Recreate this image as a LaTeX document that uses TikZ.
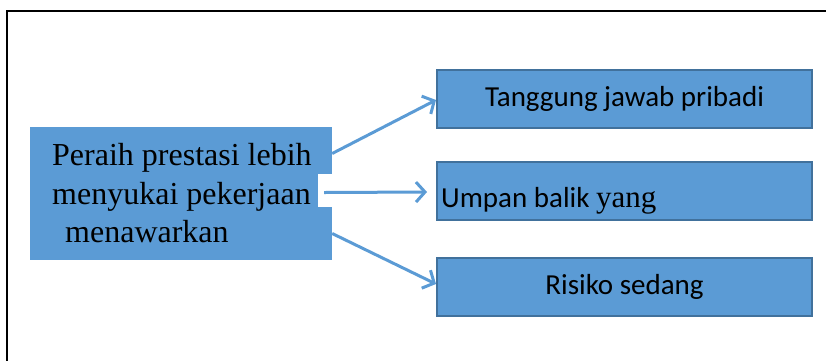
\documentclass[tikz,border=0pt]{standalone}
\usepackage{fontspec}
\setmainfont{Liberation Serif}
\newfontfamily\calib{Carlito}
\newfontfamily\timesf{Liberation Serif}
\usetikzlibrary{arrows.meta}
\definecolor{boxfill}{HTML}{5B9BD5}
\definecolor{boxline}{HTML}{41719C}
\tikzset{
  leftbox/.style={rectangle, fill=boxfill, draw=none, minimum width=302pt, minimum height=133pt, inner sep=0pt},
  rightbox/.style={rectangle, fill=boxfill, draw=boxline, line width=2pt, minimum width=375pt, minimum height=58pt, inner sep=0pt},
  arr/.style={draw=boxfill, line width=3pt, -{Straight Barb[length=9pt,width=20pt]}},
  serifTxt/.style={font=\timesf\fontsize{32pt}{39pt}\selectfont, text=black, inner sep=0pt},
  sansTxt/.style={font=\calib\fontsize{29pt}{34pt}\selectfont, text=black, inner sep=0pt}
}
\begin{document}
\begin{tikzpicture}[x=1pt,y=-1pt]
\useasboundingbox (0,0) rectangle (826,360);
% frame
\draw[line width=2.5pt, black] (7,362) -- (7,11) -- (828,11);
% boxes
\node[leftbox] (src) at (181,193.5) {};
\node[rightbox] (r1) at (624.5,99) {};
\node[rightbox] (r2) at (624.5,191) {};
\node[rightbox] (r3) at (624.5,287) {};
% white patch
\fill[white] (318,174) rectangle (332,207);
% left text
\node[serifTxt, anchor=base west] (t0a) at (52,165) {Peraih prestasi lebih};
\node[serifTxt, anchor=base west] (t0b) at (52,204) {menyukai pekerjaan};
\node[serifTxt, anchor=base west] (t0c) at (65,242) {menawarkan};
% right texts
\node[sansTxt] (t1) at (r1) {Tanggung jawab pribadi};
\node[sansTxt, anchor=base west] (t2) at (441,207) {Umpan balik {\timesf\fontsize{31pt}{34pt}\selectfont yang}};
\node[sansTxt] (t3) at (r3) {Risiko sedang};
% arrows
\draw[arr] ([yshift=40pt]src.east) -- ([yshift=-1pt]r1.west);
\draw[arr] ([xshift=-8pt,yshift=1pt]src.east) -- ([xshift=-9pt,yshift=-1pt]r2.west);
\draw[arr] ([yshift=-40pt]src.east) -- ([yshift=3pt]r3.west);
\end{tikzpicture}
\end{document}
